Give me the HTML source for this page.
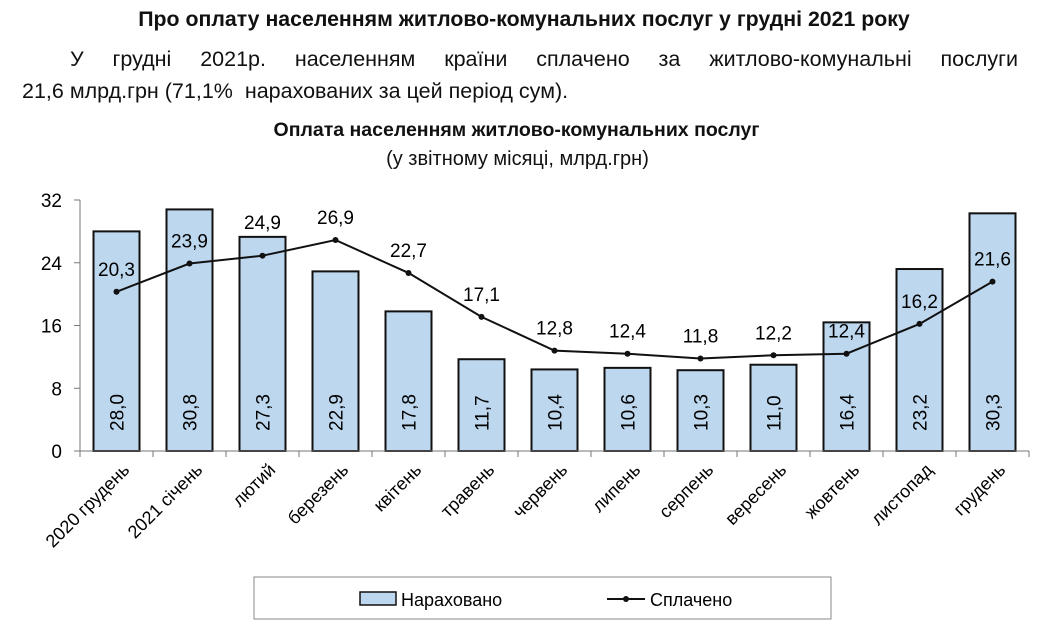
<!DOCTYPE html>
<html><head><meta charset="utf-8"><style>
body{margin:0;background:#fff;width:1048px;height:641px;overflow:hidden;font-family:"Liberation Sans",sans-serif;color:#111}
.t{position:absolute;white-space:nowrap}
</style></head><body>
<div class="t" style="left:0;width:1048px;text-align:center;top:7px;font-weight:bold;font-size:21.3px">Про оплату населенням житлово-комунальних послуг у грудні 2021 року</div>
<div class="t" style="left:70px;width:948px;top:47px;font-size:21.5px;text-align:justify;text-align-last:justify;white-space:normal">У грудні 2021р. населенням країни сплачено за житлово-комунальні послуги</div>
<div class="t" style="left:22px;top:79px;font-size:21.5px">21,6 млрд.грн (71,1%&nbsp; нарахованих за цей період сум).</div>
<div class="t" style="left:0;width:1033px;text-align:center;top:119px;font-weight:bold;font-size:19.5px">Оплата населенням житлово-комунальних послуг</div>
<div class="t" style="left:0;width:1035px;text-align:center;top:148px;font-size:20px">(у звітному місяці, млрд.грн)</div>
<svg id="c" width="1048" height="641" style="position:absolute;left:0;top:0" font-family="Liberation Sans, sans-serif"></svg>
<script>
const categories=["2020 грудень","2021 січень","лютий","березень","квітень","травень","червень","липень","серпень","вересень","жовтень","листопад","грудень"];
const accrued=[28.0,30.8,27.3,22.9,17.8,11.7,10.4,10.6,10.3,11.0,16.4,23.2,30.3];
const paid=[20.3,23.9,24.9,26.9,22.7,17.1,12.8,12.4,11.8,12.2,12.4,16.2,21.6];
const yTicks=[0,8,16,24,32];
const svg=document.getElementById('c');const NS='http://www.w3.org/2000/svg';
const X0=80,STEP=73,Y0=451,YT=200,YMAX=32;
const y=v=>Y0-(v/YMAX)*(Y0-YT);const xc=i=>X0+STEP*(i+0.5);
const fmt=v=>v.toFixed(1).replace('.',',');
function mk(t,a,txt){const e=document.createElementNS(NS,t);for(const k in a)e.setAttribute(k,a[k]);if(txt!=null)e.textContent=txt;svg.appendChild(e);return e;}
yTicks.forEach(v=>{const e=mk('text',{x:62,y:y(v)+7,'text-anchor':'end','font-size':19},v);


mk('line',{x1:74,x2:80,y1:y(v),y2:y(v),stroke:'#777'});});
mk('line',{x1:80,x2:80,y1:YT,y2:Y0,stroke:'#777'});
accrued.forEach((v,i)=>{const r=mk('rect',{x:xc(i)-23,y:y(v),width:46,height:Y0-y(v),fill:'#bdd7ee',stroke:'#111','stroke-width':2});


const t=mk('text',{transform:`translate(${xc(i)+7},${Y0-20}) rotate(-90)`,'font-size':19},fmt(v));

});
mk('line',{x1:80,x2:80+STEP*13,y1:Y0,y2:Y0,stroke:'#777'});
for(let i=0;i<=13;i++)mk('line',{x1:X0+STEP*i,x2:X0+STEP*i,y1:Y0,y2:Y0+6,stroke:'#777'});
mk('polyline',{points:paid.map((v,i)=>xc(i)+','+y(v)).join(' '),fill:'none',stroke:'#111','stroke-width':2});
paid.forEach((v,i)=>{const c=mk('circle',{cx:xc(i),cy:y(v),r:3,fill:'#111'});


const d=y(v)-y(accrued[i]);
const ly=(d>0 && d<25)? y(accrued[i])-8 : y(v)-16;
const t=mk('text',{x:xc(i),y:ly,'text-anchor':'middle','font-size':19},fmt(v));

});
categories.forEach((c,i)=>{const t=mk('text',{transform:`translate(${xc(i)+14},${Y0+20}) rotate(-45)`,'text-anchor':'end','font-size':18},c);

});
const lg=mk('rect',{x:254,y:577,width:577,height:42,fill:'#fff',stroke:'#888'});


mk('rect',{x:360,y:592,width:36,height:13,fill:'#bdd7ee',stroke:'#111','stroke-width':1.5});
const l1=mk('text',{x:401,y:606,'font-size':18},'Нараховано');


mk('line',{x1:607,x2:645,y1:599,y2:599,stroke:'#111','stroke-width':2});
mk('circle',{cx:626,cy:599,r:3,fill:'#111'});
const l2=mk('text',{x:650,y:606,'font-size':18},'Сплачено');


</script>
</body></html>
